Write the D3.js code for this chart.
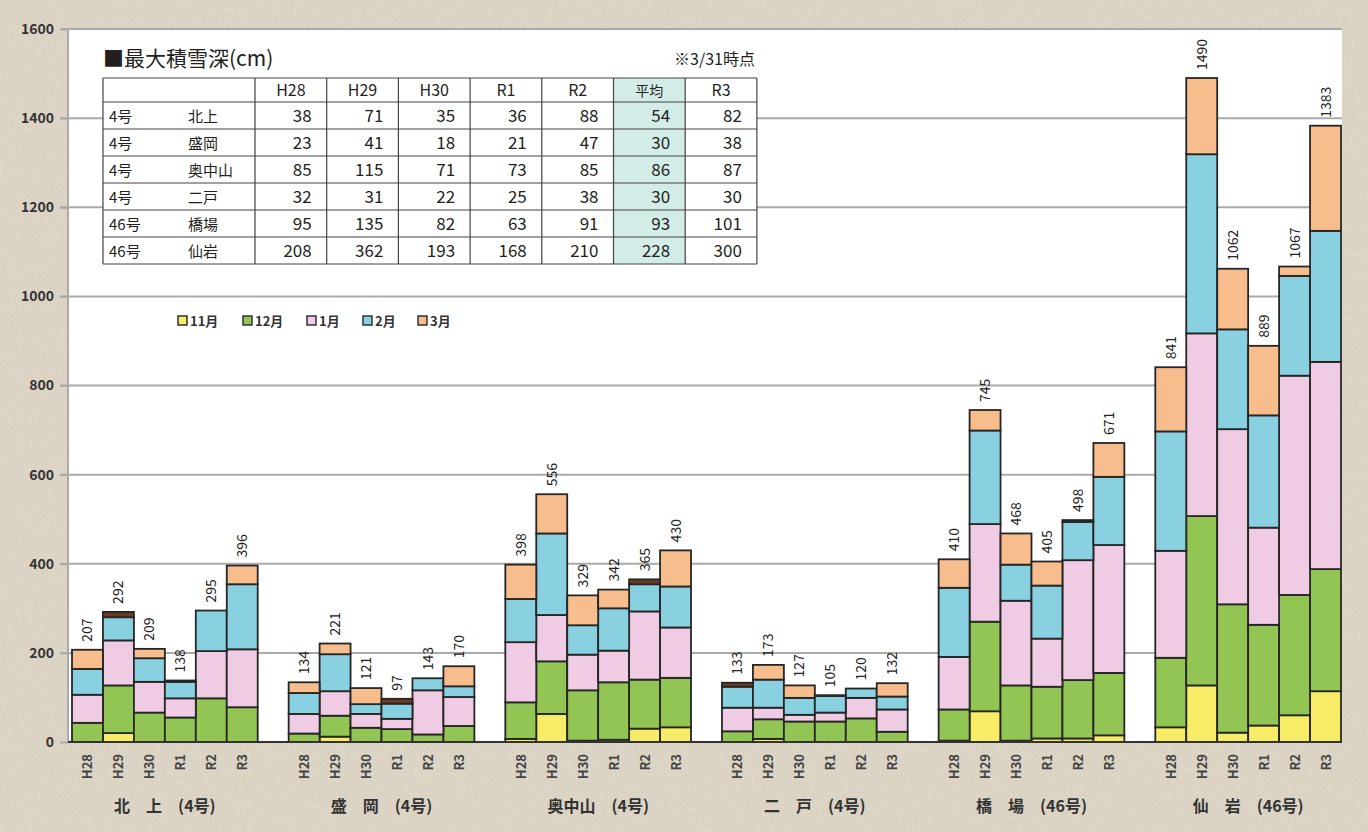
<!DOCTYPE html>
<html>
<head>
<meta charset="utf-8">
<script src="https://cdn.jsdelivr.net/npm/d3@7"></script>
<style>
  html, body { margin: 0; padding: 0; background: #ddd5c6; }
  svg { display: block; }
  text { font-family: "Noto Sans CJK JP", "Liberation Sans", sans-serif; }
</style>
</head>
<body>
<div id="chart"></div>
<script>
// stations (x groups) and years (bars in a group)
var stations = ["北\u3000上\u3000(4号)", "盛\u3000岡\u3000(4号)", "奥中山\u3000(4号)", "二\u3000戸\u3000(4号)", "橋\u3000場\u3000(46号)", "仙\u3000岩\u3000(46号)"];
var years = ["H28", "H29", "H30", "R1", "R2", "R3"];
var months = ["11月", "12月", "1月", "2月", "3月", "4月"];
var legendMonths = ["11月", "12月", "1月", "2月", "3月"];
var yTicks = [0, 200, 400, 600, 800, 1000, 1200, 1400, 1600];

// monthly snowfall per bar (6 stations x 6 years, in order)
var nov = [0, 20, 0, 0, 0, 0,   0, 12, 0, 0, 0, 0,   7, 63, 3, 5, 30, 33,
           0, 7, 0, 0, 0, 0,    3, 69, 3, 8, 8, 15,  33, 127, 21, 37, 60, 114];
var dec = [43, 107, 66, 55, 98, 78,   19, 47, 32, 29, 17, 36,   82, 118, 113, 129, 110, 111,
           24, 44, 46, 46, 53, 23,    70, 201, 124, 116, 131, 140,   156, 380, 288, 226, 270, 274];
var jan = [63, 101, 69, 43, 106, 130,   44, 55, 31, 23, 99, 65,   135, 104, 80, 71, 153, 113,
           53, 26, 15, 20, 46, 50,      118, 219, 190, 108, 269, 287,   240, 410, 393, 218, 492, 465];
var feb = [58, 52, 53, 37, 91, 146,   47, 83, 22, 34, 27, 24,   97, 183, 66, 95, 61, 92,
           47, 63, 38, 37, 21, 29,    155, 210, 81, 119, 86, 153,   268, 402, 224, 252, 224, 294];
var mar = [43, 0, 21, 0, 0, 42,   24, 24, 36, 0, 0, 45,   77, 88, 67, 42, 0, 81,
           0, 33, 28, 0, 0, 30,   64, 46, 70, 54, 0, 76,   144, 171, 136, 156, 21, 236];
var apr = [0, 12, 0, 3, 0, 0,   0, 0, 0, 11, 0, 0,   0, 0, 0, 0, 11, 0,
           9, 0, 0, 2, 0, 0,    0, 0, 0, 0, 4, 0,    0, 0, 0, 0, 0, 0];

// table of max snow depth
var tableCols = ["H28", "H29", "H30", "R1", "R2", "平均", "R3"];
var tableRoutes = ["4号", "4号", "4号", "4号", "46号", "46号"];
var tableNames = ["北上", "盛岡", "奥中山", "二戸", "橋場", "仙岩"];
var tableValues = [
  [38, 71, 35, 36, 88, 54, 82],
  [23, 41, 18, 21, 47, 30, 38],
  [85, 115, 71, 73, 85, 86, 87],
  [32, 31, 22, 25, 38, 30, 30],
  [95, 135, 82, 63, 91, 93, 101],
  [208, 362, 193, 168, 210, 228, 300]
];

var colors = {"11月": "#f7ec66", "12月": "#92c553", "1月": "#efcce3", "2月": "#89d0e1", "3月": "#f7bd8d", "4月": "#6e3b22"};

var width = 1368, height = 832;
var svg = d3.select("#chart").append("svg").attr("width", width).attr("height", height);

// paper background
var defs = svg.append("defs");
var filt = defs.append("filter").attr("id", "paper");
filt.append("feTurbulence").attr("type", "fractalNoise").attr("baseFrequency", 0.9).attr("numOctaves", 2).attr("result", "n");
filt.append("feColorMatrix").attr("type", "matrix")
  .attr("values", "0 0 0 0 0.45  0 0 0 0 0.4  0 0 0 0 0.33  0 0 0 -1.4 0.75");
svg.append("rect").attr("width", width).attr("height", height).attr("fill", "#ddd5c6");
svg.append("rect").attr("width", width).attr("height", height).attr("filter", "url(#paper)").attr("opacity", 0.35);

var plot = {left: 68, right: 1342, top: 29, bottom: 742};
svg.append("rect").attr("x", plot.left).attr("y", plot.top)
  .attr("width", plot.right - plot.left).attr("height", plot.bottom - plot.top).attr("fill", "#fff");

// slots: 6 bars per station, one empty slot between stations
var slots = [];
stations.forEach(function(s, si) {
  years.forEach(function(y) { slots.push(si + "|" + y); });
  if (si < stations.length - 1) slots.push("gap" + si);
});
var x = d3.scaleBand().domain(slots).range([72, 1341]).padding(0);
var y = d3.scaleLinear().domain([0, 1600]).range([plot.bottom, plot.top]);

// rows
var rows = [];
stations.forEach(function(s, si) {
  years.forEach(function(yr, yi) {
    var i = si * 6 + yi;
    rows.push({key: si + "|" + yr, year: yr, station: si,
      "11月": nov[i], "12月": dec[i], "1月": jan[i], "2月": feb[i], "3月": mar[i], "4月": apr[i]});
  });
});
rows.forEach(function(r) { r.total = d3.sum(months, function(m) { return r[m]; }); });

// grid
svg.append("g").selectAll("line").data(yTicks.filter(function(t) { return t > 0; }))
  .enter().append("line")
  .attr("x1", 60).attr("x2", plot.right)
  .attr("y1", function(d) { return y(d); }).attr("y2", function(d) { return y(d); })
  .attr("stroke", "#aaa").attr("stroke-width", 2);
svg.append("line").attr("x1", plot.left).attr("x2", plot.left)
  .attr("y1", plot.top).attr("y2", plot.bottom).attr("stroke", "#aaa").attr("stroke-width", 2);

// y axis labels
var yAxis = d3.axisLeft(y).tickValues(yTicks).tickFormat(d3.format("d")).tickSize(8).tickPadding(6);
var yg = svg.append("g").attr("transform", "translate(" + plot.left + ",0)").call(yAxis);
yg.select(".domain").remove();
yg.selectAll(".tick line").attr("stroke", "#aaa").attr("stroke-width", 2);
yg.selectAll(".tick text").attr("font-size", 14).attr("font-weight", "bold").attr("fill", "#333")
  .attr("font-family", "DejaVu Sans Condensed, DejaVu Sans");

// stacked bars
var stack = d3.stack().keys(months)(rows);
svg.append("g").selectAll("g").data(stack).enter().append("g")
  .attr("fill", function(d) { return colors[d.key]; })
  .selectAll("rect").data(function(d) { return d.filter(function(p) { return p[1] > p[0]; }); })
  .enter().append("rect")
  .attr("x", function(d) { return x(d.data.key); })
  .attr("width", x.bandwidth())
  .attr("y", function(d) { return y(d[1]); })
  .attr("height", function(d) { return y(d[0]) - y(d[1]); })
  .attr("stroke", "#262626").attr("stroke-width", 1.8);

// baseline
svg.append("line").attr("x1", plot.left).attr("x2", plot.right)
  .attr("y1", plot.bottom).attr("y2", plot.bottom).attr("stroke", "#333").attr("stroke-width", 2);

// totals
svg.append("g").selectAll("text").data(rows).enter().append("text")
  .attr("transform", function(d) {
    return "translate(" + (x(d.key) + x.bandwidth() / 2 + 5) + "," + (y(d.total) - 8) + ") rotate(-90)";
  })
  .attr("font-size", 14).attr("fill", "#222").attr("font-family", "DejaVu Sans Condensed, DejaVu Sans")
  .text(function(d) { return d.total; });

// year labels
svg.append("g").selectAll("text").data(rows).enter().append("text")
  .attr("transform", function(d) {
    return "translate(" + (x(d.key) + x.bandwidth() / 2 + 5) + "," + (plot.bottom + 12) + ") rotate(-90)";
  })
  .attr("text-anchor", "end").attr("font-size", 13).attr("font-weight", "bold").attr("fill", "#444")
  .attr("font-family", "DejaVu Sans Condensed, DejaVu Sans")
  .text(function(d) { return d.year; });

// station labels
svg.append("g").selectAll("text").data(stations).enter().append("text")
  .attr("x", function(d, i) { return (x(i + "|H28") + x(i + "|R3") + x.bandwidth()) / 2; })
  .attr("y", 812).attr("text-anchor", "middle").attr("font-size", 16).attr("font-weight", "bold").attr("fill", "#333")
  .text(function(d) { return d; });

// legend
var lg = svg.append("g").attr("transform", "translate(178,321)");
var lx = [0, 65, 129, 185, 240];
legendMonths.forEach(function(m, i) {
  var it = lg.append("g").attr("transform", "translate(" + lx[i] + ",0)");
  it.append("rect").attr("x", 0).attr("y", -5).attr("width", 9).attr("height", 9)
    .attr("fill", colors[m]).attr("stroke", "#333").attr("stroke-width", 1.5);
  it.append("text").attr("x", 12).attr("y", 5).attr("font-size", 13).attr("font-weight", "bold").attr("fill", "#333")
    .text(m);
});

// table
var tb = {x: 103, y: 78, firstW: 152, colW: 71.7, headH: 24, rowH: 27};
var tg = svg.append("g");
tg.append("text").attr("x", 103).attr("y", 66).attr("font-size", 21).attr("fill", "#231f20").text("■最大積雪深(cm)");
tg.append("text").attr("x", 755).attr("y", 65).attr("text-anchor", "end").attr("font-size", 16).attr("fill", "#231f20").text("※3/31時点");
var tW = tb.firstW + tb.colW * tableCols.length;
var tH = tb.headH + tb.rowH * tableValues.length;
tg.append("rect").attr("x", tb.x).attr("y", tb.y).attr("width", tW).attr("height", tH).attr("fill", "#fff");
var avgI = tableCols.indexOf("平均");
tg.append("rect").attr("x", tb.x + tb.firstW + tb.colW * avgI).attr("y", tb.y)
  .attr("width", tb.colW).attr("height", tH).attr("fill", "#d4ece8");
tableCols.forEach(function(c, ci) {
  tg.append("text").attr("x", tb.x + tb.firstW + tb.colW * (ci + 0.5)).attr("y", tb.y + 18)
    .attr("text-anchor", "middle").attr("font-size", c === "平均" ? 14 : 16).attr("fill", "#231f20")
    .attr("font-family", "Liberation Sans, Noto Sans CJK JP").text(c);
});
tableValues.forEach(function(r, ri) {
  var ty = tb.y + tb.headH + tb.rowH * ri + 20;
  tg.append("text").attr("x", tb.x + 6).attr("y", ty).attr("font-size", 15).attr("fill", "#231f20").text(tableRoutes[ri]);
  tg.append("text").attr("x", tb.x + 85).attr("y", ty).attr("font-size", 15).attr("fill", "#231f20").text(tableNames[ri]);
  r.forEach(function(v, ci) {
    tg.append("text").attr("x", tb.x + tb.firstW + tb.colW * (ci + 1) - 15).attr("y", ty)
      .attr("text-anchor", "end").attr("font-size", 17).attr("fill", "#231f20")
      .attr("font-family", "Liberation Sans").text(v);
  });
});
// table lines
for (var i = 0; i <= tableValues.length; i++) {
  var ly = i === 0 ? tb.y : tb.y + tb.headH + tb.rowH * (i - 1);
  tg.append("line").attr("x1", tb.x).attr("x2", tb.x + tW).attr("y1", ly).attr("y2", ly).attr("stroke", "#444").attr("stroke-width", 1.2);
}
tg.append("line").attr("x1", tb.x).attr("x2", tb.x + tW).attr("y1", tb.y + tH).attr("y2", tb.y + tH).attr("stroke", "#444").attr("stroke-width", 1.2);
tg.append("line").attr("x1", tb.x).attr("x2", tb.x).attr("y1", tb.y).attr("y2", tb.y + tH).attr("stroke", "#444").attr("stroke-width", 1.2);
for (var j = 0; j <= tableCols.length; j++) {
  var lx2 = tb.x + tb.firstW + tb.colW * j;
  tg.append("line").attr("x1", lx2).attr("x2", lx2).attr("y1", tb.y).attr("y2", tb.y + tH).attr("stroke", "#444").attr("stroke-width", 1.2);
}
</script>
</body>
</html>
